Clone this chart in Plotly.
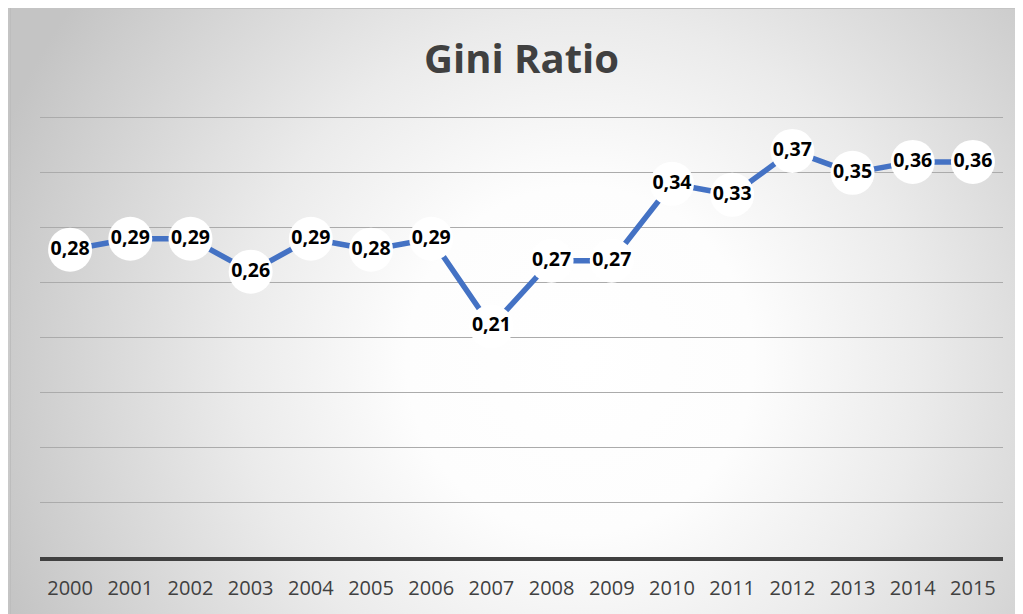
import base64
import plotly.graph_objects as go

years = [str(y) for y in range(2000, 2016)]
gini = [0.28, 0.29, 0.29, 0.26, 0.29, 0.28, 0.29, 0.21, 0.27, 0.27, 0.34, 0.33, 0.37, 0.35, 0.36, 0.36]
labels = [f"{v:.2f}".replace(".", ",") for v in gini]
title_text = "Gini Ratio"

# page is rendered with an 8px body margin, so figure coords = page coords - 8
OFF = 8
W, H = 1023, 614
L, R, B = 40 - OFF, 1003 - OFF, 557 - OFF
YMAX = 0.41
T = B - round(YMAX * 1098)
pw, ph = R - L, B - T

cx, cy = 580 - OFF, 360 - OFF
svg = f"""<svg xmlns='http://www.w3.org/2000/svg' width='{W}' height='{H}' viewBox='0 0 {W} {H}' preserveAspectRatio='none'>
<defs><radialGradient id='g' gradientUnits='userSpaceOnUse' cx='{cx}' cy='{cy}' r='620'>
<stop offset='0' stop-color='#ffffff'/>
<stop offset='0.28' stop-color='#fdfdfd'/>
<stop offset='0.55' stop-color='#ebebeb'/>
<stop offset='0.9' stop-color='#cdcdcd'/>
<stop offset='1' stop-color='#c4c4c4'/>
</radialGradient></defs>
<rect x='0' y='0' width='{W}' height='{H}' fill='url(#g)'/>
<line x1='0' y1='0.5' x2='{W}' y2='0.5' stroke='#c4c4c4' stroke-width='1'/>
<line x1='2.5' y1='0' x2='2.5' y2='{H}' stroke='#bdbdbd' stroke-width='1'/>
</svg>"""
src = "data:image/svg+xml;base64," + base64.b64encode(svg.encode()).decode()

fig = go.Figure()
fig.add_trace(go.Scatter(
    x=years, y=gini, mode="lines+markers+text",
    line=dict(color="#4472C4", width=5.5),
    marker=dict(size=44, color="#ffffff", line=dict(width=0)),
    text=labels, textposition="middle center",
    textfont=dict(family="Open Sans", size=19.5, color="#000000", weight="bold"),
    cliponaxis=False, hoverinfo="skip", showlegend=False,
))

fig.add_layout_image(dict(
    source=src, xref="paper", yref="paper",
    x=-L / pw, y=B / ph, sizex=W / pw, sizey=H / ph,
    xanchor="left", yanchor="top", sizing="stretch", layer="below",
))

fig.add_annotation(
    text=f"<b>{title_text}</b>", xref="paper", yref="paper",
    x=(521.5 - OFF - L) / pw, y=(B - (57.5 - OFF)) / ph, xanchor="center", yanchor="middle",
    showarrow=False, font=dict(family="Open Sans", size=40, color="#404040"),
)

fig.update_layout(
    width=W, height=H,
    margin=dict(l=L, r=W - R, t=T, b=H - B, pad=0),
    paper_bgcolor="rgba(0,0,0,0)", plot_bgcolor="rgba(0,0,0,0)",
    xaxis=dict(type="category", range=[-0.5, 15.5], showgrid=False, showline=True,
               linecolor="#404040", linewidth=4, ticks="", ticklabelstandoff=10,
               automargin=False,
               tickfont=dict(family="Open Sans", size=20, color="#404040"),
               fixedrange=True),
    yaxis=dict(range=[0, YMAX], dtick=0.05, tick0=0, showticklabels=False,
               showgrid=True, gridcolor="#ababab", gridwidth=1, zeroline=False,
               showline=False, automargin=False, fixedrange=True),
)

fig.write_html("out.html")
